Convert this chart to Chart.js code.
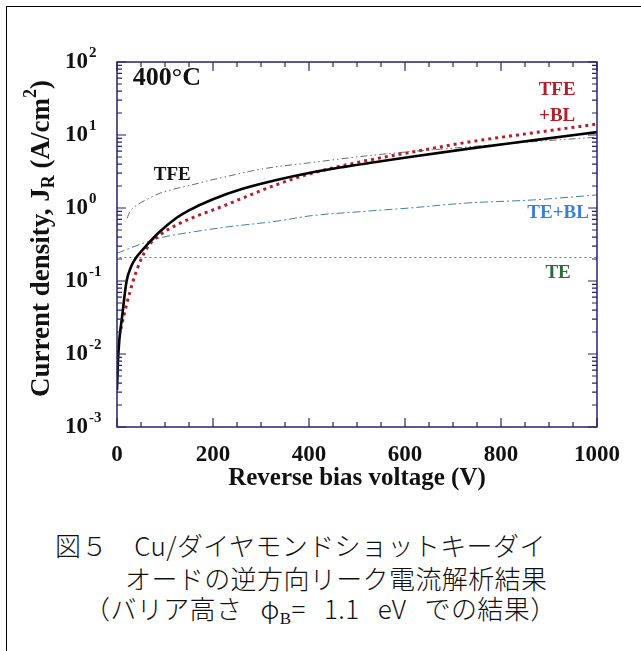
<!DOCTYPE html>
<html lang="ja">
<head>
<meta charset="UTF-8">
<title>Cu/ダイヤモンド SBD 逆方向リーク電流</title>
<script src="https://cdn.jsdelivr.net/npm/chart.js"></script>
<style>
  body { margin: 0; background: #fff; }
  #wrap { position: relative; width: 641px; height: 651px; overflow: hidden; background: #fff; }
  #frame { position: absolute; left: 6px; top: 6px; width: 700px; height: 700px;
           border-left: 1px solid #000; border-top: 1px solid #000; }
  canvas { position: absolute; left: 0; top: 0; }
  .cap { position: absolute; font-family: "Noto Sans CJK JP", sans-serif; font-size: 26px;
         font-weight: 300; line-height: 32px; white-space: pre; color: #111; letter-spacing: 0.4px; }
  .sub { font-family: "Liberation Serif", serif; font-size: 17px; position: relative; top: 5px; }
</style>
</head>
<body>
<div id="wrap">
  <div id="frame"></div>
  <canvas id="chart" width="641" height="500"></canvas>
  <div class="cap" style="left:55px; top:529px;">図５　Cu/ダイヤモンドショットキーダイ</div>
  <div class="cap" style="left:125px; top:562px;">オードの逆方向リーク電流解析結果</div>
  <div class="cap" style="left:84px; top:592px; word-spacing:12px;">（バリア高さ φ<span class="sub">B</span>= 1.1 eV での結果）</div>
</div>

<script>
  // values (V in volts, J in A/cm2)
  const totalV = [0, 2, 5, 10, 20, 30, 40, 55, 70, 90, 125, 150, 200, 260, 330, 400, 470, 540, 610, 730, 870, 1000];
  const totalJ = [0.0032, 0.0079, 0.016, 0.030, 0.10, 0.16, 0.21, 0.275, 0.355, 0.48, 0.74, 0.93, 1.32, 1.82, 2.40, 3.02, 3.63, 4.27, 5.01, 6.46, 8.51, 10.96];

  const tfeblV = [8, 15, 27, 41, 62, 90, 125, 158, 194, 230, 263, 333, 402, 506, 610, 729, 867, 1000];
  const tfeblJ = [0.022, 0.035, 0.071, 0.14, 0.28, 0.43, 0.59, 0.74, 0.91, 1.12, 1.38, 2.09, 2.95, 4.27, 5.75, 7.94, 10.7, 14.1];

  const tfeV = [21, 27, 44, 69, 90, 125, 158, 194, 221, 298, 402, 542, 700, 870, 1000];
  const tfeJ = [0.72, 0.89, 1.12, 1.38, 1.60, 1.86, 2.09, 2.40, 2.63, 3.39, 4.17, 5.37, 6.61, 8.13, 9.33];

  const teblV = [0, 55, 90, 158, 229, 333, 402, 506, 610, 729, 867, 1000];
  const teblJ = [0.24, 0.33, 0.39, 0.47, 0.55, 0.66, 0.78, 0.89, 1.0, 1.17, 1.29, 1.51];

  const teV = [5, 1000];
  const teJ = [0.21, 0.21];

  const yTickValues = [0.001, 0.01, 0.1, 1, 10, 100];
  const yTickExps = ['-3', '-2', '-1', '0', '1', '2'];

  // in-plot labels: text, V, J, colour
  const labels = [
    { text: '400°C', v: 33, j: 60, color: '#111', align: 'left', size: 26 },
    { text: 'TFE', v: 115, j: 2.83, color: '#111', align: 'center', size: 19 },
    { text: 'TFE', v: 917, j: 41, color: '#b0202c', align: 'center', size: 19 },
    { text: '+BL', v: 917, j: 18.2, color: '#b0202c', align: 'center', size: 19 },
    { text: 'TE+BL', v: 919, j: 0.85, color: '#3a7fd5', align: 'center', size: 19 },
    { text: 'TE', v: 919, j: 0.129, color: '#2e6b3a', align: 'center', size: 19 }
  ];

  const pts = (xs, ys) => xs.map((v, i) => ({ x: v, y: ys[i] }));
  const NAVY = '#25256e';
  const SERIF = '"Liberation Serif", "Times New Roman", serif';

  const decor = {
    id: 'decor',
    afterDraw(chart) {
      const { ctx, chartArea: a, scales: { x, y } } = chart;
      ctx.save();

      // frame
      ctx.strokeStyle = NAVY;
      ctx.lineWidth = 1.5;
      ctx.strokeRect(a.left, a.top, a.right - a.left, a.bottom - a.top);

      // inward ticks
      ctx.lineWidth = 1.2;
      ctx.beginPath();
      for (let v = 0; v <= 1000; v += 50) {
        const px = x.getPixelForValue(v);
        const len = v % 200 === 0 ? 9 : 5;
        ctx.moveTo(px, a.bottom); ctx.lineTo(px, a.bottom - len);
        ctx.moveTo(px, a.top); ctx.lineTo(px, a.top + len);
      }
      for (let d = -3; d <= 2; d++) {
        for (let m = 1; m <= 9; m++) {
          if (d === 2 && m > 1) break;
          const py = y.getPixelForValue(m * Math.pow(10, d));
          const len = m === 1 ? 9 : 5;
          ctx.moveTo(a.left, py); ctx.lineTo(a.left + len, py);
          ctx.moveTo(a.right, py); ctx.lineTo(a.right - len, py);
        }
      }
      ctx.stroke();

      // y tick labels 10^n
      ctx.fillStyle = '#111';
      yTickValues.forEach((val, i) => {
        const py = y.getPixelForValue(val);
        ctx.font = 'bold 23px ' + SERIF;
        ctx.textAlign = 'right';
        ctx.textBaseline = 'middle';
        ctx.fillText('10', 88, py);
        ctx.font = 'bold 15px ' + SERIF;
        ctx.textAlign = 'left';
        ctx.fillText(yTickExps[i], 89, py - 9);
      });

      // y axis title, rotated, with J_R and cm^2
      const parts = [
        { t: 'Current density, J', size: 27, dy: 0 },
        { t: 'R', size: 18, dy: 7 },
        { t: ' (A/cm', size: 27, dy: 0 },
        { t: '2', size: 18, dy: -11 },
        { t: ')', size: 27, dy: 0 }
      ];
      let total = 0;
      parts.forEach(p => { ctx.font = 'bold ' + p.size + 'px ' + SERIF; p.w = ctx.measureText(p.t).width; total += p.w; });
      ctx.translate(42, (a.top + a.bottom) / 2 - 6);
      ctx.rotate(-Math.PI / 2);
      ctx.textAlign = 'left';
      ctx.textBaseline = 'middle';
      let cx = -total / 2;
      parts.forEach(p => {
        ctx.font = 'bold ' + p.size + 'px ' + SERIF;
        ctx.fillText(p.t, cx, p.dy);
        cx += p.w;
      });
      ctx.setTransform(1, 0, 0, 1, 0, 0);

      // in-plot labels
      labels.forEach(l => {
        ctx.font = 'bold ' + l.size + 'px ' + SERIF;
        ctx.fillStyle = l.color;
        ctx.textAlign = l.align;
        ctx.textBaseline = 'middle';
        ctx.fillText(l.text, x.getPixelForValue(l.v), y.getPixelForValue(l.j));
      });
      ctx.restore();
    }
  };

  new Chart(document.getElementById('chart').getContext('2d'), {
    type: 'line',
    data: {
      datasets: [
        { label: 'Calc', data: pts(totalV, totalJ), borderColor: '#000', borderWidth: 2.6 },
        { label: 'TFE+BL', data: pts(tfeblV, tfeblJ), borderColor: '#b0202c', borderWidth: 3, borderDash: [3, 4] },
        { label: 'TFE', data: pts(tfeV, tfeJ), borderColor: '#6a6a6a', borderWidth: 1, borderDash: [7, 3, 1.5, 3, 1.5, 3] },
        { label: 'TE+BL', data: pts(teblV, teblJ), borderColor: '#3f7fa8', borderWidth: 1, borderDash: [8, 3, 2, 3] },
        { label: 'TE', data: pts(teV, teJ), borderColor: '#557777', borderWidth: 1.2, borderDash: [2, 3] }
      ]
    },
    options: {
      responsive: false,
      animation: false,
      elements: {
        point: { radius: 0 },
        line: { fill: false, cubicInterpolationMode: 'monotone' }
      },
      layout: { padding: { left: 0, top: 62, right: 44, bottom: 6 } },
      scales: {
        x: {
          type: 'linear',
          min: 0,
          max: 1000,
          grid: { display: false },
          border: { display: false },
          ticks: { stepSize: 200, color: '#111', padding: 6, maxRotation: 0,
                   callback: v => String(v),
                   font: { family: SERIF, size: 23, weight: 'bold' } },
          title: { display: true, text: 'Reverse bias voltage (V)', color: '#111',
                   padding: { top: 0, bottom: 0 },
                   font: { family: SERIF, size: 25, weight: 'bold' } },
          afterFit: s => { s.height = 67; }
        },
        y: {
          type: 'logarithmic',
          min: 0.001,
          max: 100,
          grid: { display: false },
          border: { display: false },
          ticks: { display: false },
          afterFit: s => { s.width = 117; }
        }
      },
      plugins: {
        legend: { display: false },
        tooltip: { enabled: false }
      }
    },
    plugins: [decor]
  });
</script>
</body>
</html>
